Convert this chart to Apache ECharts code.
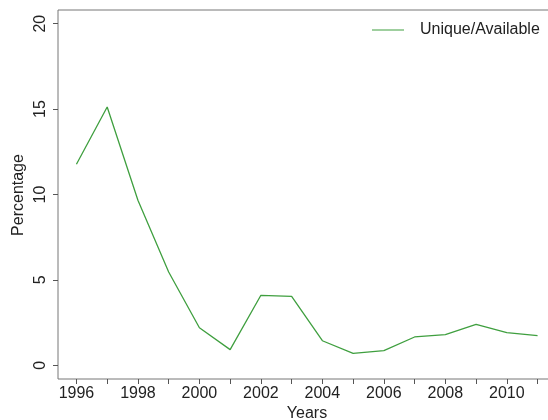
<!DOCTYPE html>
<html>
<head>
<meta charset="utf-8">
<script src="https://cdn.jsdelivr.net/npm/echarts@6/dist/echarts.min.js"></script>
<style>
  html, body { margin: 0; padding: 0; background: #fff; }
  #main { width: 548px; height: 420px; }
</style>
</head>
<body>
<div id="main"></div>
<script>
// 数据
const years = [1996, 1997, 1998, 1999, 2000, 2001, 2002, 2003, 2004, 2005, 2006, 2007, 2008, 2009, 2010, 2011];
const uniqueAvailable = [11.77, 15.12, 9.66, 5.46, 2.2, 0.92, 4.1, 4.04, 1.44, 0.7, 0.86, 1.66, 1.8, 2.4, 1.91, 1.74];
const xTickValues = years;
const xLabelValues = [1996, 1998, 2000, 2002, 2004, 2006, 2008, 2010];
const yTickValues = [0, 5, 10, 15, 20];

const font = "Liberation Sans, Arial, sans-serif";
const axisGray = "#555";

const chart = echarts.init(document.getElementById("main"));
chart.setOption({
    animation: false,
    grid: {
        left: 58,
        top: 10,
        width: 498,
        height: 369,
        outerBoundsMode: "none",
        containLabel: false,
        show: true,
        borderColor: "#777",
        borderWidth: 1,
        backgroundColor: "transparent",
    },
    legend: {
        left: 367,
        top: 17,
        icon: "rect",
        itemWidth: 32,
        itemHeight: 1,
        textStyle: {
            fontFamily: font,
            fontSize: 16,
            color: "#222",
            padding: [0, 0, 0, 11],
        },
        data: ["Unique/Available"],
    },
    // y轴标题（竖排）
    graphic: [
        {
            type: "text",
            x: 19,
            y: 195,
            rotation: Math.PI / 2,
            style: {
                text: "Percentage",
                font: "16px " + font,
                fill: "#222",
                align: "center",
                verticalAlign: "middle",
            },
        },
    ],
    xAxis: {
        type: "value",
        min: 1995.4,
        max: 2011.6,
        name: "Years",
        nameLocation: "middle",
        nameGap: 27,
        nameMoveOverlap: false,
        nameTextStyle: { fontFamily: font, fontSize: 16, color: "#222" },
        axisLine: { show: false, onZero: false },
        axisTick: {
            show: true,
            inside: false,
            length: 5,
            customValues: xTickValues,
            lineStyle: { color: axisGray },
        },
        axisLabel: {
            customValues: xLabelValues,
            formatter: (v) => String(v),
            margin: 7,
            fontFamily: font,
            fontSize: 16,
            color: "#222",
        },
        splitLine: { show: false },
    },
    yAxis: {
        type: "value",
        min: -0.8,
        max: 20.8,
        axisLine: { show: false, onZero: false },
        axisTick: {
            show: true,
            inside: false,
            length: 5,
            customValues: yTickValues,
            lineStyle: { color: axisGray },
        },
        axisLabel: {
            customValues: yTickValues,
            rotate: 90,
            margin: 9,
            fontFamily: font,
            fontSize: 16,
            color: "#222",
        },
        splitLine: { show: false },
    },
    series: [
        {
            name: "Unique/Available",
            type: "line",
            data: years.map((y, i) => [y, uniqueAvailable[i]]),
            symbol: "none",
            itemStyle: { color: "#3f9f3f" },
            lineStyle: { color: "#3f9f3f", width: 1.3 },
        },
    ],
});
</script>
</body>
</html>
